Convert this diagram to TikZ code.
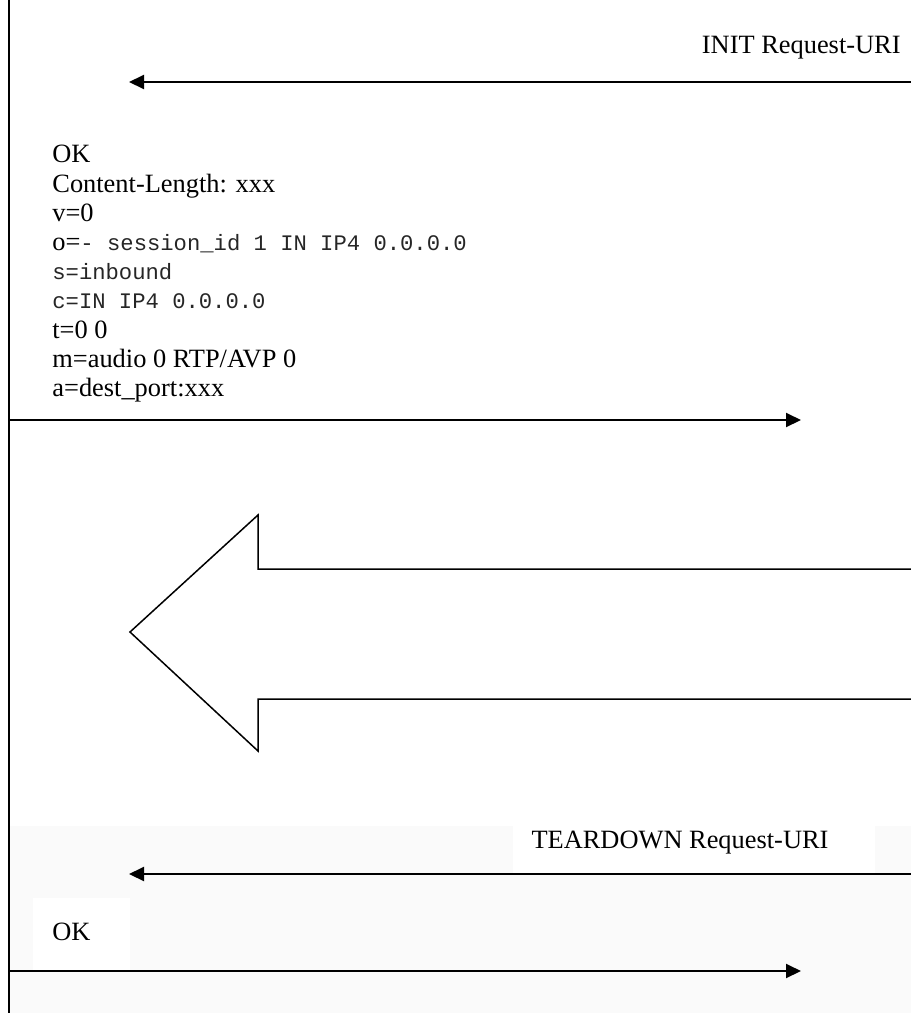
\documentclass[tikz,border=0pt]{standalone}
\usepackage{fontspec}
\setmainfont{Liberation Serif}
\setmonofont{Liberation Mono}
\usetikzlibrary{arrows.meta, positioning, backgrounds}

\newcommand{\sdpmono}[1]{{\ttfamily\fontsize{11.1}{14.6}\selectfont\color{black!85}#1}}

\begin{document}
\begin{tikzpicture}[
    x=0.5pt, y=-0.5pt,
    msg/.style      = {-{Triangle[length=7.5pt, width=7pt]}, line width=1pt},
    lifeline/.style = {line width=0.8pt},
    lbl/.style      = {font=\fontsize{13.2}{14.6}\selectfont, inner sep=0pt},
    sdp/.style      = {lbl, align=left, anchor=north west},
    wbox/.style     = {fill=white, draw=none, inner sep=0pt},
    bigarrow/.style = {draw, line width=0.75pt, fill=white, line join=miter}
]
\useasboundingbox (0,0) rectangle (911,1013);

% ========= shaded lower part =========
\fill[black!2] (10,826) rectangle (911,1013);
\node[wbox, minimum width=181pt, minimum height=23.5pt] (tdbox) at (694,849.5) {};
\node[wbox, minimum width=48.5pt, minimum height=36pt]  (okbox) at (81.5,934) {};

% ========= lifeline =========
\coordinate (lifetop) at (9,0);
\coordinate (lifebot) at (9,1013);
\draw[lifeline] (lifetop) -- (lifebot);

% ========= INIT =========
\node[lbl, anchor=base east] (initlbl) at (901,53) {INIT Request-URI};
\coordinate (initR) at (911,82);
\coordinate (initL) at (129,82);
\draw[msg] (initR) -- (initL);

% ========= OK with SDP body =========
\node[sdp] (oklbl) at (52,145) {OK\\
  Content-Length: xxx\\
  v=0\\
  o=\sdpmono{- session\_id 1 IN IP4 0.0.0.0}\\
  \sdpmono{s=inbound}\\
  \sdpmono{c=IN IP4 0.0.0.0}\\
  t=0 0\\
  m=audio 0 RTP/AVP 0\\
  a=dest\_port:xxx};
\coordinate (okL) at (9,420);
\coordinate (okR) at (801,420);
\draw[msg] (okL) -- (okR);

% ========= RTP packets =========
\node[lbl, anchor=base] (rtplbl) at (733,590) {RTP packets};
\draw[bigarrow] (911,569) -- (258,569) -- (258,515) -- (130,632)
    -- (258,751) -- (258,699) -- (911,699);

% ========= TEARDOWN =========
\node[lbl, anchor=base] (tdlbl) at (680,848) {TEARDOWN Request-URI};
\coordinate (tdR) at (911,874);
\coordinate (tdL) at (129,874);
\draw[msg] (tdR) -- (tdL);

% ========= OK =========
\node[lbl, anchor=base west] (ok2lbl) at (52,940) {OK};
\coordinate (ok2L) at (9,971);
\coordinate (ok2R) at (801,971);
\draw[msg] (ok2L) -- (ok2R);

\end{tikzpicture}
\end{document}
